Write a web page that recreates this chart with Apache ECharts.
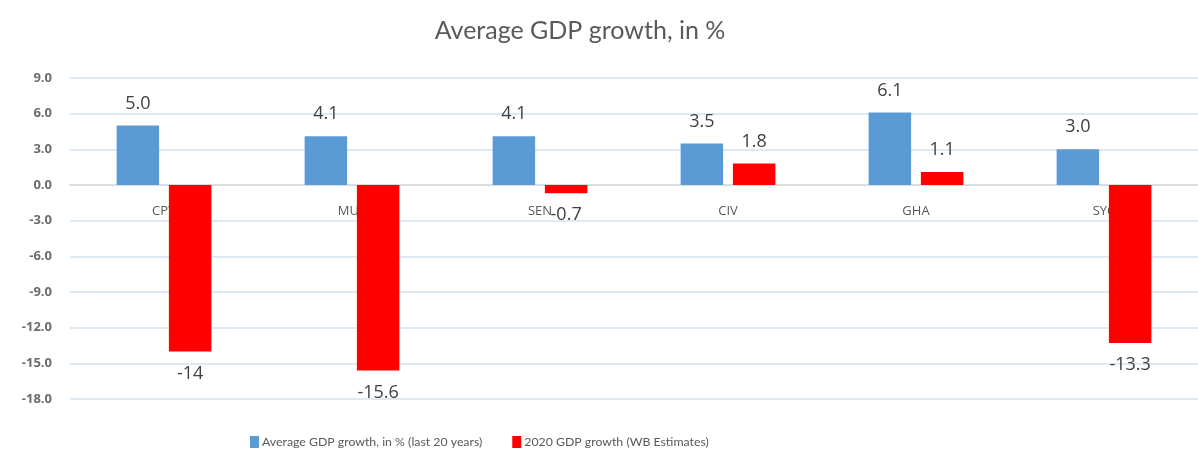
<!DOCTYPE html>
<html>
<head>
<meta charset="utf-8">
<script src="https://cdn.jsdelivr.net/npm/echarts@6/dist/echarts.min.js"></script>
<style>
  html, body { margin: 0; padding: 0; background: #fff; }
  #chart { width: 1198px; height: 453px; }
</style>
</head>
<body>
<div id="chart"></div>
<script>
// data
const countries = ['CPV', 'MUS', 'SEN', 'CIV', 'GHA', 'SYC'];
const avgGrowth = [5.0, 4.1, 4.1, 3.5, 6.1, 3.0];
const growth2020 = [-14, -15.6, -0.7, 1.8, 1.1, -13.3];
const yTicks = { min: -18, max: 9, step: 3 };

const labelFont = 'Open Sans, Liberation Sans, sans-serif';

const chart = echarts.init(document.getElementById('chart'));

const barLabel = (fmt) => ({
  show: true,
  position: 'top',
  distance: 13,
  fontSize: 18,
  color: '#404040',
  fontFamily: labelFont,
  formatter: fmt
});

// grid geometry: bottom of plot sits at y=-18, zero line 18 units up
const gridTop = 78;
const gridBottom = 54;
const plotH = 453 - gridTop - gridBottom;
const zeroOffset = plotH * (0 - yTicks.min) / (yTicks.max - yTicks.min);

const option = {
  backgroundColor: '#fff',
  animation: false,
  title: {
    text: 'Average GDP growth, in %',
    left: 575,
    textAlign: 'center',
    top: 13,
    textStyle: { fontSize: 25, fontWeight: 'normal', color: '#595959', fontFamily: 'Lato, sans-serif' }
  },
  legend: {
    left: 245,
    bottom: 0,
    itemWidth: 9,
    itemHeight: 12,
    itemGap: 30,
    icon: 'rect',
    textStyle: { fontSize: 12.3, color: '#595959', fontFamily: 'Lato, sans-serif', padding: [0, 0, 0, -2] },
    data: ['Average GDP growth, in % (last 20 years)', '2020 GDP growth (WB Estimates)']
  },
  grid: {
    left: 70,
    top: gridTop,
    width: 1143,
    bottom: gridBottom
  },
  xAxis: {
    type: 'category',
    data: countries,
    offset: -zeroOffset,
    axisLine: { onZero: false, lineStyle: { color: '#d9d9d9', width: 1.5 } },
    axisTick: { show: false },
    axisLabel: { margin: 20, fontSize: 13, color: '#595959', fontFamily: labelFont }
  },
  yAxis: {
    type: 'value',
    min: yTicks.min,
    max: yTicks.max,
    interval: yTicks.step,
    axisLine: { show: false },
    axisTick: { show: false },
    splitLine: { lineStyle: { color: '#d5e2f2', width: 1.5 } },
    axisLabel: {
      margin: 18,
      fontSize: 13,
      fontWeight: 'bold',
      color: '#6b6b6b',
      fontFamily: labelFont,
      formatter: (v) => v.toFixed(1)
    }
  },
  series: [
    {
      name: 'Average GDP growth, in % (last 20 years)',
      type: 'bar',
      data: avgGrowth,
      barWidth: '22.6%',
      barGap: '23%',
      itemStyle: { color: '#5b9bd5' },
      label: barLabel((p) => p.value.toFixed(1))
    },
    {
      name: '2020 GDP growth (WB Estimates)',
      type: 'bar',
      data: growth2020.map((v) => ({
        value: v,
        label: { position: v < 0 ? 'bottom' : 'top' }
      })),
      barWidth: '22.6%',
      itemStyle: { color: '#ff0000' },
      label: barLabel((p) => String(p.value))
    }
  ]
};

chart.setOption(option);
</script>
</body>
</html>
